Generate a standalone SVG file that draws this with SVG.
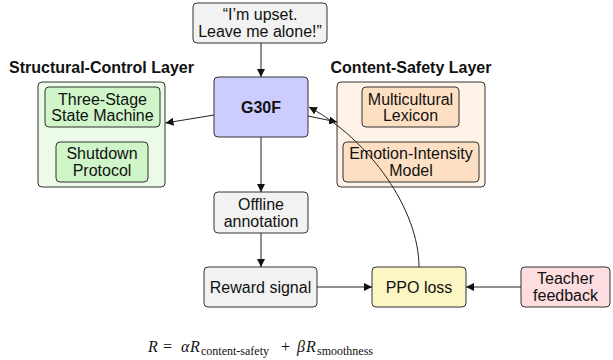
<svg xmlns="http://www.w3.org/2000/svg" width="613" height="360" viewBox="0 0 613 360">
<defs>
<marker id="ah" markerUnits="userSpaceOnUse" markerWidth="9" markerHeight="8" refX="8" refY="4" orient="auto">
<path d="M0,0 L8,4 L0,8 z" fill="#111"/>
</marker>
<style>
.b{stroke:#333;stroke-width:1}
.t{font-family:"Liberation Sans",Arial,sans-serif;font-size:16px;fill:#111;text-anchor:middle}
.h{font-family:"Liberation Sans",Arial,sans-serif;font-size:16px;font-weight:bold;fill:#111;text-anchor:middle}
.c{fill:none;stroke:#222;stroke-width:1;marker-end:url(#ah)}
.m{font-family:"Liberation Serif","Times New Roman",serif;font-size:16px;fill:#111}
.i{font-style:italic}
.s{font-size:12px}
</style>
</defs>
<rect width="613" height="360" fill="#fff"/>
<g id="quote">
<rect class="b" x="193" y="3" width="134" height="40" rx="4" fill="#f2f2f2"/>
<text class="t" x="260" y="20.2">“I’m upset.</text>
<text class="t" x="260" y="37.2">Leave me alone!”</text>
</g>
<g id="g30f">
<rect class="b" x="214" y="77" width="94" height="60" rx="4" fill="#ccccff"/>
<text class="h" x="261" y="112.7">G30F</text>
</g>
<g id="structural-layer">
<text class="h" x="101.5" y="73">Structural-Control Layer</text>
<rect class="b" x="38" y="82" width="127" height="105" rx="4" fill="#ebfbe7"/>
</g>
<g id="three-stage">
<rect class="b" x="45" y="87" width="115" height="40" rx="4" fill="#cff5c9"/>
<text class="t" x="102.5" y="104.5">Three-Stage</text>
<text class="t" x="102.5" y="121.2">State Machine</text>
</g>
<g id="shutdown">
<rect class="b" x="56" y="142" width="92" height="40" rx="4" fill="#cff5c9"/>
<text class="t" x="102" y="159.2">Shutdown</text>
<text class="t" x="102" y="176.2">Protocol</text>
</g>
<g id="content-layer">
<text class="h" x="411" y="73">Content-Safety Layer</text>
<rect class="b" x="337" y="82" width="148" height="105" rx="4" fill="#fff3e7"/>
</g>
<g id="lexicon">
<rect class="b" x="362" y="87" width="97" height="40" rx="4" fill="#fde0c3"/>
<text class="t" x="410.5" y="104.5">Multicultural</text>
<text class="t" x="410.5" y="121.2">Lexicon</text>
</g>
<g id="emotion">
<rect class="b" x="343" y="142" width="136" height="40" rx="4" fill="#fde0c3"/>
<text class="t" x="411" y="159.2">Emotion-Intensity</text>
<text class="t" x="411" y="176.2">Model</text>
</g>
<g id="offline">
<rect class="b" x="214" y="192" width="94" height="41" rx="4" fill="#f2f2f2"/>
<text class="t" x="261" y="209.7">Offline</text>
<text class="t" x="261" y="226.7">annotation</text>
</g>
<g id="reward">
<rect class="b" x="204" y="267" width="113" height="40" rx="4" fill="#f2f2f2"/>
<text class="t" x="260.5" y="292.7">Reward signal</text>
</g>
<g id="ppo">
<rect class="b" x="372" y="267" width="94" height="40" rx="4" fill="#fcf6c4"/>
<text class="t" x="419" y="292.7">PPO loss</text>
</g>
<g id="teacher">
<rect class="b" x="521" y="267" width="89" height="40" rx="4" fill="#fddde0"/>
<text class="t" x="565.5" y="284.2">Teacher</text>
<text class="t" x="565.5" y="301.2">feedback</text>
</g>
<g id="connectors">
<line class="c" x1="261" y1="43" x2="261" y2="77"/>
<line class="c" x1="214" y1="115" x2="165.5" y2="123"/>
<line class="c" x1="308" y1="116" x2="337" y2="122"/>
<line class="c" x1="261" y1="137" x2="261" y2="192"/>
<line class="c" x1="261" y1="233" x2="261" y2="267"/>
<line class="c" x1="317" y1="287" x2="372" y2="287"/>
<line class="c" x1="521" y1="287" x2="466" y2="287"/>
<path class="c" d="M419,267 C419,210 370,140 309,107"/>
</g>
<g id="formula">
<text class="m" y="352"><tspan x="148" class="i">R</tspan><tspan x="163">=</tspan><tspan x="181" class="i">α</tspan><tspan x="190" class="i">R</tspan><tspan x="201" dy="3" class="s">content-safety</tspan><tspan x="281" dy="-3">+</tspan><tspan x="297" class="i">β</tspan><tspan x="306" class="i">R</tspan><tspan x="317" dy="3" class="s">smoothness</tspan></text>
</g>
</svg>
